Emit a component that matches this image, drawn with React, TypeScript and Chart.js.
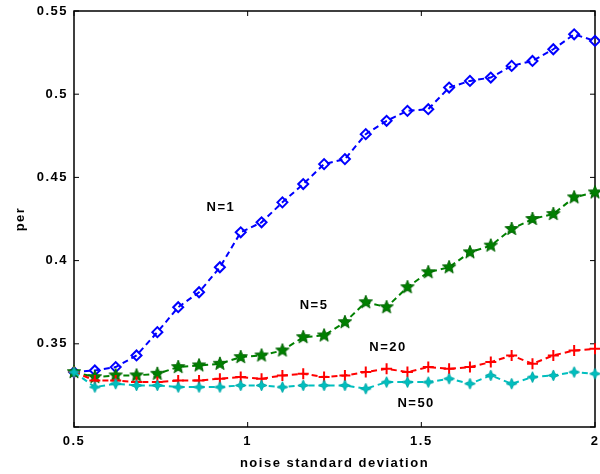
import React, { useEffect, useRef } from 'react';
import { Chart, registerables } from 'chart.js';

Chart.register(...registerables);

const noiseStd = [0.5, 0.56, 0.62, 0.68, 0.74, 0.8, 0.86, 0.92, 0.98, 1.04, 1.1, 1.16, 1.22, 1.28, 1.34, 1.4, 1.46, 1.52, 1.58, 1.64, 1.7, 1.76, 1.82, 1.88, 1.94, 2.0];
const perN1 = [0.333, 0.334, 0.336, 0.343, 0.357, 0.372, 0.381, 0.396, 0.417, 0.423, 0.435, 0.446, 0.458, 0.461, 0.476, 0.484, 0.490, 0.491, 0.504, 0.508, 0.510, 0.517, 0.520, 0.527, 0.536, 0.532];
const perN5 = [0.333, 0.330, 0.331, 0.331, 0.332, 0.336, 0.337, 0.338, 0.342, 0.343, 0.346, 0.354, 0.355, 0.363, 0.375, 0.372, 0.384, 0.393, 0.396, 0.405, 0.409, 0.419, 0.425, 0.428, 0.438, 0.441];
const perN20 = [0.333, 0.328, 0.328, 0.327, 0.327, 0.328, 0.328, 0.329, 0.330, 0.329, 0.331, 0.332, 0.330, 0.331, 0.333, 0.335, 0.333, 0.336, 0.335, 0.336, 0.339, 0.343, 0.338, 0.343, 0.346, 0.347];
const perN50 = [0.333, 0.324, 0.326, 0.325, 0.325, 0.324, 0.324, 0.324, 0.325, 0.325, 0.324, 0.325, 0.325, 0.325, 0.323, 0.327, 0.327, 0.327, 0.329, 0.326, 0.331, 0.326, 0.330, 0.331, 0.333, 0.332];

const xTicks = [0.5, 1, 1.5, 2];
const yTicks = [0.3, 0.35, 0.4, 0.45, 0.5, 0.55];
const seriesLabels = ['N=1', 'N=5', 'N=20', 'N=50'];
const labelX = [0.923, 1.191, 1.404, 1.485];
const labelY = [0.432, 0.373, 0.348, 0.314];

const FONT = "'Liberation Sans', Arial, sans-serif";

function makeStar(points: number, outer: number, inner: number, fill: string, stroke: string) {
  const size = Math.ceil(outer * 2 + 4);
  const c = document.createElement('canvas');
  c.width = size;
  c.height = size;
  const ctx = c.getContext('2d')!;
  const cx = size / 2;
  const cy = size / 2;
  ctx.beginPath();
  for (let i = 0; i < points * 2; i++) {
    const r = i % 2 === 0 ? outer : inner;
    const a = -Math.PI / 2 + (i * Math.PI) / points;
    const px = cx + r * Math.cos(a);
    const py = cy + r * Math.sin(a);
    if (i === 0) ctx.moveTo(px, py);
    else ctx.lineTo(px, py);
  }
  ctx.closePath();
  ctx.fillStyle = fill;
  ctx.fill();
  ctx.strokeStyle = stroke;
  ctx.lineWidth = 1;
  ctx.stroke();
  return c;
}

const framePlugin = {
  id: 'matlabFrame',
  beforeDraw(chart: any) {
    (chart.ctx as any).letterSpacing = '1.5px';
  },
  beforeDatasetsDraw(chart: any) {
    const { ctx, chartArea } = chart;
    const { left, right, top, bottom } = chartArea;
    const xs = chart.scales.x;
    const ys = chart.scales.y;
    ctx.save();
    ctx.strokeStyle = '#000';
    ctx.lineWidth = 1.5;
    ctx.strokeRect(left, top, right - left, bottom - top);
    ctx.lineWidth = 1;
    const tl = 5;
    ctx.beginPath();
    xTicks.forEach((v) => {
      const px = xs.getPixelForValue(v);
      ctx.moveTo(px, bottom);
      ctx.lineTo(px, bottom - tl);
      ctx.moveTo(px, top);
      ctx.lineTo(px, top + tl);
    });
    yTicks.forEach((v) => {
      const py = ys.getPixelForValue(v);
      ctx.moveTo(left, py);
      ctx.lineTo(left + tl, py);
      ctx.moveTo(right, py);
      ctx.lineTo(right - tl, py);
    });
    ctx.stroke();
    ctx.restore();
  },
  afterDraw(chart: any) {
    const { ctx } = chart;
    const xs = chart.scales.x;
    const ys = chart.scales.y;
    ctx.save();
    ctx.fillStyle = '#000';
    ctx.font = `bold 13px ${FONT}`;
    (ctx as any).letterSpacing = '1.5px';
    ctx.textAlign = 'center';
    ctx.textBaseline = 'middle';
    seriesLabels.forEach((t, i) => {
      ctx.fillText(t, xs.getPixelForValue(labelX[i]), ys.getPixelForValue(labelY[i]));
    });
    ctx.restore();
  },
};

export default function App() {
  const ref = useRef<HTMLCanvasElement>(null);
  useEffect(() => {
    if (!ref.current) return;
    const greenStar = makeStar(5, 7, 3, '#008000', '#006400');
    const cyanStar = makeStar(4, 5.5, 2.3, '#00bfbf', '#00a8a8');
    const toPts = (ys: number[]) => ys.map((y, i) => ({ x: noiseStd[i], y }));
    const common = { borderWidth: 2, borderDash: [6, 4], fill: false, tension: 0, clip: false };
    const zeroPad = (s: any) => {
      s.paddingLeft = 0;
      s.paddingRight = 0;
      s.paddingTop = 0;
      s.paddingBottom = 0;
    };
    const chart = new Chart(ref.current, {
      type: 'line',
      data: {
        datasets: [
          {
            ...common,
            label: seriesLabels[0],
            data: toPts(perN1),
            borderColor: '#0000ff',
            pointStyle: 'rectRot',
            pointRadius: 5,
            pointBorderWidth: 2,
            pointBorderColor: '#0000ff',
            pointBackgroundColor: 'rgba(0,0,0,0)',
            order: 4,
          },
          {
            ...common,
            label: seriesLabels[1],
            data: toPts(perN5),
            borderColor: '#008000',
            pointStyle: greenStar,
            pointRadius: 8,
            order: 3,
          },
          {
            ...common,
            label: seriesLabels[2],
            data: toPts(perN20),
            borderColor: '#ff0000',
            pointStyle: 'cross',
            pointRadius: 5.5,
            pointBorderWidth: 2,
            pointBorderColor: '#ff0000',
            order: 2,
          },
          {
            ...common,
            label: seriesLabels[3],
            data: toPts(perN50),
            borderColor: '#00bfbf',
            pointStyle: cyanStar,
            pointRadius: 6,
            order: 1,
          },
        ] as any,
      },
      options: {
        animation: false,
        responsive: false,
        devicePixelRatio: 1,
        layout: { autoPadding: false, padding: { left: 0, right: 5, top: 11, bottom: 0 } },
        plugins: { legend: { display: false }, tooltip: { enabled: false } },
        scales: {
          x: {
            type: 'linear',
            min: 0.5,
            max: 2,
            afterBuildTicks: (s: any) => {
              s.ticks = xTicks.map((v) => ({ value: v }));
            },
            afterFit: (s: any) => {
              s.height = 47;
              zeroPad(s);
            },
            grid: { display: false, drawTicks: false },
            border: { display: false },
            ticks: {
              padding: 7,
              color: '#000',
              font: { family: FONT, size: 13, weight: 'bold' },
              callback: (v: any) => String(Number(Number(v).toFixed(2))),
              maxRotation: 0,
            },
            title: {
              display: true,
              text: 'noise standard deviation',
              color: '#000',
              font: { family: FONT, size: 13, weight: 'bold' },
              padding: { top: 0, bottom: 3 },
            },
          },
          y: {
            type: 'linear',
            min: 0.3,
            max: 0.55,
            afterBuildTicks: (s: any) => {
              s.ticks = yTicks.map((v) => ({ value: v }));
            },
            afterFit: (s: any) => {
              s.width = 74;
              zeroPad(s);
            },
            grid: { display: false, drawTicks: false },
            border: { display: false },
            ticks: {
              padding: 6,
              color: '#000',
              font: { family: FONT, size: 13, weight: 'bold' },
              callback: (v: any) => (Math.abs(v - 0.3) < 1e-9 ? '' : String(Number(Number(v).toFixed(2)))),
            },
            title: {
              display: true,
              text: 'per',
              color: '#000',
              font: { family: FONT, size: 13, weight: 'bold' },
              padding: { top: 13, bottom: 0 },
            },
          },
        },
      },
      plugins: [framePlugin],
    });
    return () => chart.destroy();
  }, []);
  return (
    <div style={{ position: 'absolute', left: 0, top: 0, width: 600, height: 474, background: '#fff' }}>
      <canvas ref={ref} width={600} height={474} style={{ display: 'block' }} />
    </div>
  );
}
